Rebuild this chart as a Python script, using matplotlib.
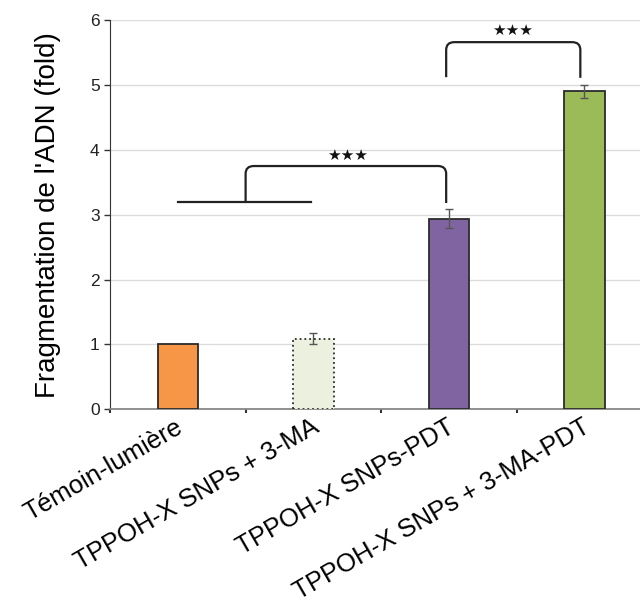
import numpy as np
import matplotlib.pyplot as plt
from matplotlib.path import Path
from matplotlib.patches import PathPatch

plt.rcParams['font.family'] = ['Liberation Sans', 'DejaVu Sans']

# data
groups = ['Témoin-lumière', 'TPPOH-X SNPs + 3-MA', 'TPPOH-X SNPs-PDT', 'TPPOH-X SNPs + 3-MA-PDT']
values = [1.0, 1.09, 2.94, 4.90]
errors = [0.0, 0.08, 0.15, 0.10]
colors = ['#F79646', '#EBF1DE', '#8064A2', '#9BBB59']
styles = ['solid', 'dotted', 'solid', 'solid']

fig = plt.figure(figsize=(6.4, 6.09), dpi=100)
ax = fig.add_axes([0.172, 0.328, 0.847, 0.639])

x = np.arange(len(groups))
for i in range(len(groups)):
    ax.bar(x[i], values[i], width=0.3, color=colors[i], edgecolor='#2b2b2b',
           linewidth=1.3, linestyle=styles[i], zorder=3)
ax.errorbar(x[1:], values[1:], yerr=errors[1:], fmt='none', ecolor='#555555',
            elinewidth=1, capsize=3, capthick=1, zorder=4)

ax.set_xlim(-0.5, 3.5)
ax.set_ylim(0, 6)
ax.set_yticks(np.arange(0, 7, 1))
ax.tick_params(axis='y', labelsize=12.5, length=4, width=1, color='#333333',
               labelcolor='#222222')
ax.yaxis.grid(True, color='#dcdcdc', linewidth=1, zorder=0)
ax.set_axisbelow(True)

ax.set_xticks(np.arange(-0.5, 3.6, 1))
ax.set_xticklabels([])
ax.tick_params(axis='x', length=3, width=1.5, color='#333333')
trans = ax.get_xaxis_transform()
for i, g in enumerate(groups):
    ax.text(x[i] - 0.02, -0.015, g, transform=trans, rotation=30,
            rotation_mode='anchor', ha='right', va='top', fontsize=18.5)

ax.set_ylabel("Fragmentation de l'ADN (fold)", fontsize=20, labelpad=21)

ax.spines['top'].set_visible(False)
ax.spines['right'].set_visible(False)
ax.spines['left'].set_color('#333333')
ax.spines['bottom'].set_color('#888888')
ax.spines['bottom'].set_linewidth(1.3)


def bracket(x0, x1, y0, ytop, y1, r=0.06, ry=0.12):
    verts = [(x0, y0), (x0, ytop - ry), (x0, ytop), (x0 + r, ytop),
             (x1 - r, ytop), (x1, ytop), (x1, ytop - ry), (x1, y1)]
    codes = [Path.MOVETO, Path.LINETO, Path.CURVE3, Path.CURVE3,
             Path.LINETO, Path.CURVE3, Path.CURVE3, Path.LINETO]
    ax.add_patch(PathPatch(Path(verts, codes), fill=False, lw=1.6,
                           edgecolor='#222222', zorder=5))


# significance brackets
ax.plot([0, 0.98], [3.2, 3.2], color='#222222', lw=1.6, zorder=5)
bracket(0.5, 1.98, 3.2, 3.75, 3.18)
ax.text(1.25, 3.79, '★★★', ha='center', va='bottom', fontsize=11,
        family='DejaVu Sans', color='#111111')
bracket(1.98, 2.97, 5.12, 5.66, 5.11)
ax.text(2.47, 5.72, '★★★', ha='center', va='bottom', fontsize=11,
        family='DejaVu Sans', color='#111111')

fig.savefig('out.png', dpi=100)
